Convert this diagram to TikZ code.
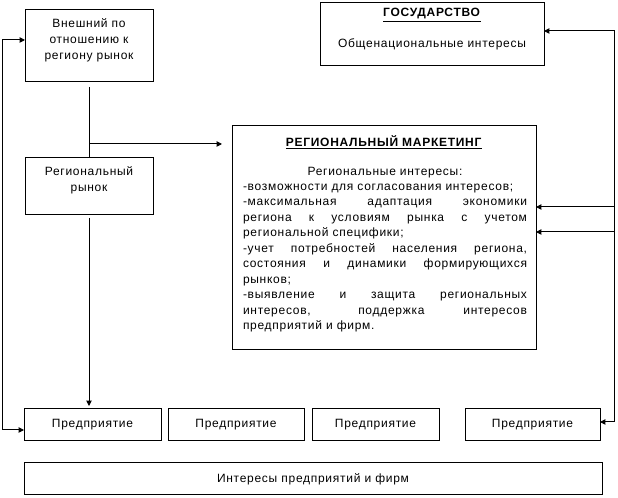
\documentclass[tikz,border=0pt]{standalone}
\usepackage{fontspec}
\setmainfont{Liberation Sans}[LetterSpace=6]
\usetikzlibrary{arrows.meta}
\newcommand{\rmw}{213pt}
\newcommand{\jline}[1]{\makebox[\rmw][s]{\spaceskip=0pt\xspaceskip=0pt #1}}
\newcommand{\lline}[1]{\makebox[\rmw][l]{#1}}
\tikzset{
  box/.style={draw, line width=0.75pt, inner sep=0pt, outer sep=0pt},
  txt/.style={inner sep=0pt, outer sep=0pt, font=\fontsize{9}{12}\selectfont, align=center},
  plain/.style={line width=0.75pt},
  link/.style={line width=0.75pt, -{Triangle[length=4pt,width=4pt]}},
  both/.style={line width=0.75pt, {Triangle[length=4pt,width=4pt]}-{Triangle[length=4pt,width=4pt]}}
}
\begin{document}
\begin{tikzpicture}[x=.75pt,y=-.75pt]
\path[use as bounding box,fill=white] (0,0) rectangle (618,498);
% upper left boxes
\node[box,minimum width=96pt,minimum height=54pt] (ext) at (89,46) {};
\node[txt] (exttext) at (89,40.5) {Внешний по\\отношению к\\региону рынок};
\node[box,minimum width=96pt,minimum height=42.75pt] (reg) at (89,186.5) {};
\node[txt] (regtext) at (89,180) {Региональный\\рынок};
% state
\node[box,minimum width=168pt,minimum height=47.25pt] (state) at (432,34.5) {};
\node[txt] (statetitle) at (432,15) {\underline{\textbf{ГОСУДАРСТВО}}};
\node[txt] (statetext) at (432,44) {Общенациональные интересы};
% regional marketing
\node[box,minimum width=228pt,minimum height=168pt] (rmk) at (384,238) {};
\node[txt] (rmktitle) at (384,142) {\underline{\textbf{РЕГИОНАЛЬНЫЙ МАРКЕТИНГ}}};
\node[txt,align=left,text width=\rmw,font=\fontsize{9}{11.6}\selectfont] (rmktext) at (385,249.5) {%
\makebox[\rmw][c]{Региональные интересы:}\\
\lline{-возможности для согласования интересов;}\\
\jline{-максимальная адаптация экономики}\\
\jline{региона к условиям рынка с учетом}\\
\lline{региональной специфики;}\\
\jline{-учет потребностей населения региона,}\\
\jline{состояния и динамики формирующихся}\\
\lline{рынков;}\\
\jline{-выявление и защита региональных}\\
\jline{интересов, поддержка интересов}\\
\lline{предприятий и фирм.}};
% enterprises
\node[box,minimum width=102.75pt,minimum height=24pt,font=\fontsize{9}{12}\selectfont] (ent1) at (92.5,425) {Предприятие};
\node[box,minimum width=102pt,minimum height=24pt,font=\fontsize{9}{12}\selectfont] (ent2) at (236,425) {Предприятие};
\node[box,minimum width=95.25pt,minimum height=24pt,font=\fontsize{9}{12}\selectfont] (ent3) at (375.5,425) {Предприятие};
\node[box,minimum width=101.25pt,minimum height=24pt,font=\fontsize{9}{12}\selectfont] (ent4) at (532.5,425) {Предприятие};
\node[box,minimum width=433.5pt,minimum height=24pt,font=\fontsize{9}{12}\selectfont] (firms) at (313,479) {Интересы предприятий и фирм};
% connectors
\coordinate (la) at (2,40);
\coordinate (lb) at (2,430);
\coordinate (ra) at (614,31);
\coordinate (rb) at (614,422);
\coordinate (rc) at (614,207);
\coordinate (rd) at (614,232);
\coordinate (mj) at (89,144);
\draw[both] (la -| ext.west) -- (la) -- (lb) -- (lb -| ent1.west);
\draw[both] (ra -| state.east) -- (ra) -- (rb) -- (rb -| ent4.east);
\draw[link] (rc) -- (rc -| rmk.east);
\draw[link] (rd) -- (rd -| rmk.east);
\draw[plain] ([yshift=-3.75pt]ext.south) -- (reg.north);
\draw[link] (mj) -- ([xshift=-7.5pt]mj -| rmk.west);
\draw[link] ([yshift=-2.25pt]reg.south) -- ([yshift=2.25pt]ent1.north -| reg.south);
\end{tikzpicture}
\end{document}
